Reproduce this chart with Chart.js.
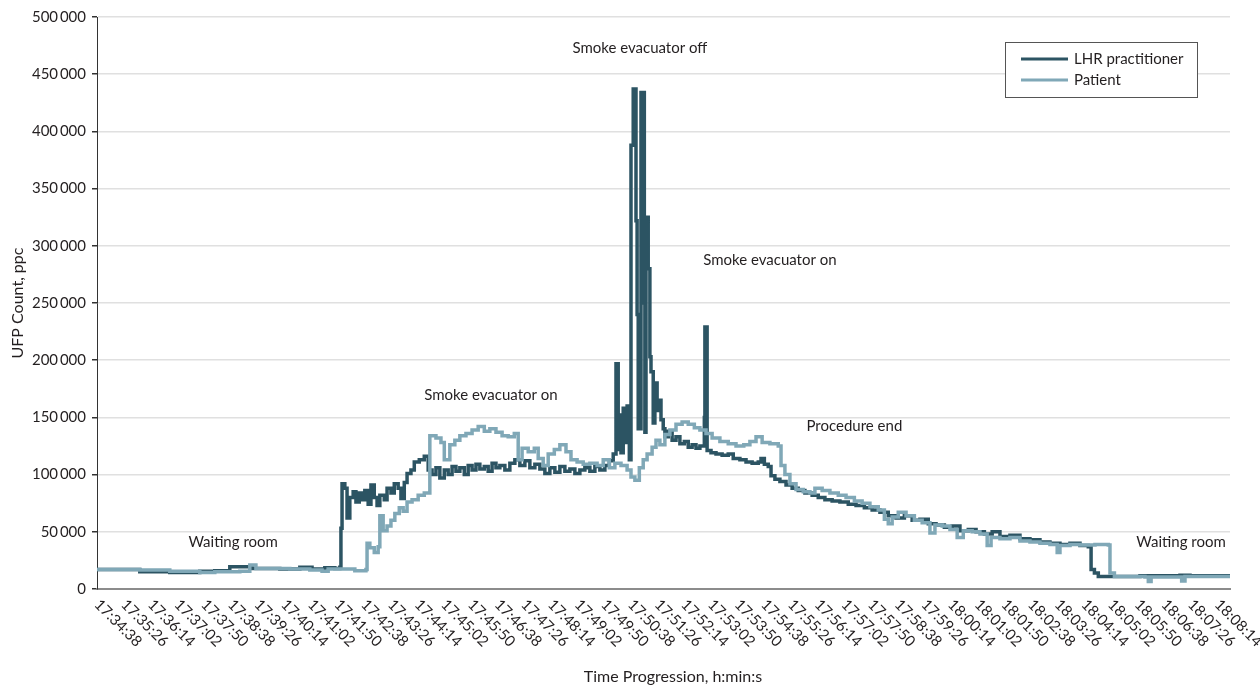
<!DOCTYPE html>
<html>
<head>
<meta charset="utf-8">
<script src="https://cdn.jsdelivr.net/npm/chart.js@4"></script>
<style>
  html, body { margin: 0; padding: 0; background: #fff; }
  #wrap { width: 1260px; height: 686px; }
</style>
</head>
<body>
<div id="wrap"><canvas id="myChart" width="1260" height="686"></canvas></div>
<script>
// time axis: seconds after 17:34:38
const startTime = 17 * 3600 + 34 * 60 + 38
const tickStep = 48

// LHR practitioner
const practitionerTimes = [0, 77, 131, 185, 212, 239, 279, 329, 365, 387, 410, 428, 437, 439, 441, 446, 450, 455, 461, 466, 472, 477, 482, 488, 493, 499, 504, 509, 517, 522, 529, 535, 542, 547, 553, 558, 565, 571, 580, 589, 596, 603, 610, 617, 625, 632, 639, 646, 653, 661, 668, 675, 682, 689, 697, 704, 711, 718, 725, 734, 743, 752, 761, 770, 779, 788, 797, 806, 815, 824, 833, 842, 851, 860, 869, 878, 887, 896, 905, 914, 922, 929, 934, 938, 940, 943, 947, 950, 954, 958, 961, 965, 970, 972, 974, 979, 985, 986, 988, 992, 995, 997, 1001, 1004, 1008, 1012, 1015, 1019, 1022, 1028, 1035, 1042, 1049, 1057, 1064, 1071, 1078, 1085, 1093, 1094, 1098, 1105, 1114, 1125, 1136, 1145, 1157, 1168, 1179, 1190, 1195, 1201, 1208, 1213, 1220, 1229, 1240, 1251, 1262, 1274, 1287, 1298, 1310, 1323, 1337, 1352, 1366, 1381, 1395, 1409, 1424, 1438, 1453, 1467, 1481, 1496, 1510, 1525, 1539, 1553, 1568, 1582, 1597, 1611, 1625, 1643, 1661, 1679, 1697, 1715, 1733, 1751, 1769, 1784, 1789, 1795, 1802, 1841, 1877, 1949, 1967, 2021, 2039]
const practitionerValues = [17000, 15000, 14500, 15500, 16000, 19500, 18000, 17500, 19000, 17500, 18500, 18000, 19000, 53000, 92000, 88000, 62000, 80000, 85000, 76000, 84000, 78000, 86000, 74000, 91000, 80000, 73000, 82000, 78000, 88000, 84000, 92000, 88000, 79000, 93000, 101000, 104000, 111000, 113000, 116000, 104000, 100000, 106000, 97000, 104000, 100000, 107000, 103000, 106000, 100000, 108000, 104000, 109000, 105000, 107000, 103000, 110000, 106000, 108000, 104000, 110000, 113000, 108000, 112000, 106000, 109000, 105000, 101000, 106000, 102000, 107000, 103000, 105000, 101000, 104000, 106000, 103000, 107000, 104000, 108000, 112000, 118000, 197000, 122000, 152000, 119000, 158000, 128000, 160000, 113000, 388000, 437000, 322000, 240000, 140000, 434000, 250000, 137000, 325000, 280000, 203000, 190000, 145000, 180000, 156000, 165000, 148000, 140000, 133000, 138000, 130000, 133000, 127000, 129000, 124000, 126000, 123000, 125000, 150000, 229000, 121000, 119000, 118000, 117000, 118000, 114000, 113000, 111000, 110000, 111000, 114000, 109000, 107000, 99000, 96000, 94000, 91000, 88000, 86000, 84000, 82000, 80000, 78000, 77000, 76000, 74000, 73000, 71000, 69000, 67000, 64000, 62000, 64000, 60000, 61000, 57000, 56000, 54000, 55000, 51000, 52000, 50000, 48000, 50000, 46000, 47000, 44000, 43000, 41000, 40000, 39000, 40000, 38000, 37000, 17000, 14000, 11000, 11000, 11500, 12000, 11500, 11500, 11500]

// Patient
const patientTimes = [0, 77, 131, 185, 212, 257, 275, 286, 347, 383, 405, 416, 446, 464, 484, 486, 491, 499, 506, 509, 515, 522, 529, 536, 544, 551, 558, 567, 578, 589, 599, 610, 619, 625, 635, 644, 653, 664, 675, 686, 697, 707, 718, 729, 740, 751, 758, 765, 776, 787, 794, 803, 812, 823, 833, 844, 853, 864, 875, 887, 900, 911, 922, 932, 943, 954, 961, 968, 976, 983, 990, 999, 1006, 1013, 1022, 1031, 1042, 1053, 1064, 1075, 1085, 1096, 1107, 1121, 1136, 1150, 1164, 1175, 1186, 1197, 1211, 1226, 1231, 1238, 1247, 1258, 1271, 1283, 1292, 1305, 1319, 1334, 1348, 1363, 1377, 1391, 1406, 1417, 1424, 1431, 1442, 1456, 1471, 1485, 1499, 1508, 1521, 1535, 1548, 1559, 1575, 1589, 1602, 1609, 1625, 1643, 1661, 1679, 1697, 1715, 1728, 1733, 1751, 1769, 1796, 1820, 1823, 1831, 1886, 1892, 1897, 1949, 1952, 1958, 2039]
const patientValues = [17000, 16500, 15500, 14500, 15000, 15500, 21000, 18000, 17500, 16500, 15500, 17500, 17500, 16000, 17000, 40000, 36000, 32000, 37000, 64000, 51000, 55000, 60000, 66000, 71000, 68000, 76000, 78000, 82000, 84000, 134000, 132000, 128000, 113000, 126000, 130000, 134000, 136000, 139000, 142000, 138000, 140000, 137000, 134000, 133000, 136000, 113000, 123000, 120000, 123000, 114000, 108000, 118000, 122000, 126000, 120000, 113000, 111000, 109000, 110000, 108000, 113000, 106000, 110000, 108000, 104000, 98000, 95000, 106000, 113000, 118000, 124000, 130000, 126000, 135000, 139000, 144000, 146000, 144000, 141000, 139000, 136000, 132000, 129000, 127000, 125000, 126000, 129000, 133000, 128000, 127000, 125000, 108000, 100000, 92000, 87000, 85000, 84000, 88000, 86000, 84000, 82000, 80000, 77000, 75000, 72000, 69000, 61000, 57000, 63000, 67000, 64000, 60000, 58000, 49000, 56000, 55000, 52000, 45000, 51000, 50000, 48000, 38000, 45000, 44000, 45000, 42000, 41000, 40000, 39000, 32000, 38000, 39000, 38500, 39000, 38500, 14000, 11000, 10500, 6500, 10500, 10500, 7000, 11000, 11500]

// text notes on the plot: [text, seconds, value]
const noteTexts = ['Smoke evacuator off', 'Smoke evacuator on', 'Smoke evacuator on', 'Procedure end', 'Waiting room', 'Waiting room']
const noteTimes = [977, 709, 1211, 1363, 245, 1951]
const noteValues = [472900, 169600, 287600, 142500, 41100, 41100]

const fontName = 'Lato'
const textColor = '#231f20'

function toPoints(times, values) {
  return times.map((t, i) => ({ x: t, y: values[i] }))
}

function clock(v) {
  let t = startTime + v
  let h = Math.floor(t / 3600)
  let m = Math.floor((t % 3600) / 60)
  let s = t % 60
  return h + ':' + String(m).padStart(2, '0') + ':' + String(s).padStart(2, '0')
}

function thousands(v) {
  return String(v).replace(/\B(?=(\d{3})+(?!\d))/g, '\u2009')
}

// draws the slanted time labels, the notes, the x title and the legend box
const extras = {
  id: 'extras',
  afterDraw(chart) {
    const ctx = chart.ctx
    const xs = chart.scales.x
    const ys = chart.scales.y
    ctx.save()
    ctx.fillStyle = textColor
    ctx.font = '15px ' + fontName
    ctx.textAlign = 'left'
    ctx.textBaseline = 'middle'
    xs.ticks.forEach((tk) => {
      const px = xs.getPixelForValue(tk.value)
      ctx.save()
      ctx.translate(px, 602)
      ctx.rotate(Math.PI / 4)
      ctx.fillText(clock(tk.value), 0, 0)
      ctx.restore()
    })

    ctx.textAlign = 'center'
    noteTexts.forEach((txt, i) => {
      ctx.fillText(txt, xs.getPixelForValue(noteTimes[i]), ys.getPixelForValue(noteValues[i]))
    })

    ctx.font = '16px ' + fontName
    ctx.fillText('Time Progression, h:min:s', 673, 677)

    // legend
    const bx = 1005, by = 42, bw = 192, bh = 55
    ctx.fillStyle = '#fff'
    ctx.fillRect(bx, by, bw, bh)
    ctx.strokeStyle = '#555'
    ctx.lineWidth = 1
    ctx.strokeRect(bx + 0.5, by + 0.5, bw, bh)
    ctx.font = '15px ' + fontName
    ctx.textAlign = 'left'
    chart.data.datasets.forEach((ds, i) => {
      const ly = by + 17 + i * 21
      ctx.strokeStyle = ds.borderColor
      ctx.lineWidth = 3
      ctx.beginPath()
      ctx.moveTo(bx + 16, ly)
      ctx.lineTo(bx + 63, ly)
      ctx.stroke()
      ctx.fillStyle = textColor
      ctx.fillText(ds.label, bx + 69, ly)
    })
    ctx.restore()
  }
}

const data = {
  datasets: [
    {
      label: 'LHR practitioner',
      data: toPoints(practitionerTimes, practitionerValues),
      borderColor: '#2c5463',
      backgroundColor: '#2c5463',
      order: 1
    },
    {
      label: 'Patient',
      data: toPoints(patientTimes, patientValues),
      borderColor: '#80a8b7',
      backgroundColor: '#80a8b7',
      order: 0
    }
  ]
}

const config = {
  type: 'line',
  data: data,
  options: {
    responsive: false,
    animation: false,
    layout: { padding: { top: 17, right: 30, left: 0, bottom: 0 } },
    elements: {
      line: { borderWidth: 3.5, stepped: true, tension: 0 },
      point: { radius: 0 }
    },
    plugins: {
      legend: { display: false },
      tooltip: { enabled: false }
    },
    scales: {
      x: {
        type: 'linear',
        min: 0,
        max: 2039,
        ticks: { stepSize: tickStep, includeBounds: false, display: false },
        grid: { display: false },
        border: { display: true, color: '#8c8c8c', width: 2 },
        afterFit: (scale) => { scale.height = 97 }
      },
      y: {
        min: 0,
        max: 500000,
        ticks: {
          stepSize: 50000,
          color: textColor,
          font: { family: fontName, size: 15 },
          padding: 6,
          callback: (v) => thousands(v)
        },
        grid: { color: '#e0e0e0', lineWidth: 1.5, tickColor: '#333', tickLength: 5 },
        border: { display: true, color: '#333', width: 1 },
        title: {
          display: true,
          text: 'UFP Count, ppc',
          color: textColor,
          font: { family: fontName, size: 16 },
          padding: { top: 8, bottom: 0 }
        },
        afterFit: (scale) => { scale.width = 97 }
      }
    }
  },
  plugins: [extras]
}

const myChart = new Chart(document.getElementById('myChart'), config)
</script>
</body>
</html>
